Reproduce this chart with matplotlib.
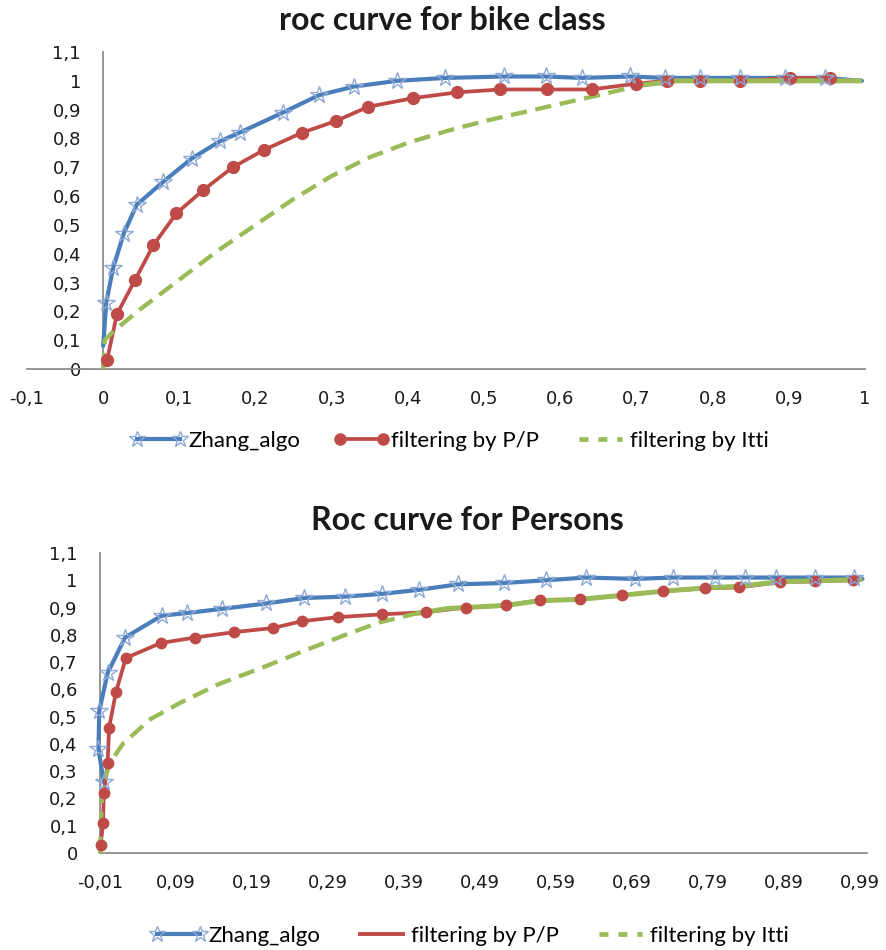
import numpy as np
import matplotlib
matplotlib.use("Agg")
import matplotlib.pyplot as plt
from matplotlib.lines import Line2D
from matplotlib.ticker import FixedLocator, FuncFormatter

# ---------------- bike class ----------------
bike_zhang_x = [0.0, 0.004, 0.013, 0.027, 0.044, 0.079, 0.116, 0.153, 0.179, 0.236, 0.283,
                0.329, 0.386, 0.449, 0.526, 0.581, 0.628, 0.691, 0.738, 0.784, 0.836,
                0.895, 0.947, 0.996]
bike_zhang_y = [0.08, 0.23, 0.35, 0.47, 0.57, 0.65, 0.73, 0.79, 0.82, 0.89, 0.95,
                0.98, 1.00, 1.01, 1.015, 1.015, 1.01, 1.015, 1.01, 1.01, 1.01,
                1.01, 1.01, 1.00]
bike_zhang_mk = list(range(1, 23))  # star markers (first and last are line ends)

bike_pp_x = [0.005, 0.018, 0.042, 0.066, 0.096, 0.131, 0.170, 0.211, 0.261, 0.305,
             0.348, 0.407, 0.465, 0.521, 0.582, 0.641, 0.699, 0.740, 0.784, 0.836,
             0.901, 0.954]
bike_pp_y = [0.03, 0.19, 0.31, 0.43, 0.54, 0.62, 0.70, 0.76, 0.82, 0.86,
             0.91, 0.94, 0.96, 0.97, 0.97, 0.97, 0.99, 1.00, 1.00, 1.00,
             1.01, 1.01]

bike_itti_x = [0.0, 0.002, 0.013, 0.05, 0.10, 0.15, 0.20, 0.25, 0.30, 0.35,
               0.40, 0.45, 0.50, 0.55, 0.60, 0.65, 0.706, 0.754, 0.850, 0.996]
bike_itti_y = [0.0, 0.10, 0.13, 0.21, 0.31, 0.41, 0.50, 0.59, 0.67, 0.735,
               0.785, 0.825, 0.86, 0.89, 0.92, 0.95, 0.985, 1.00, 1.00, 1.00]
bike_itti_dense_from = 16  # index where the points crowd together

# ---------------- persons ----------------
pers_zhang_x = [-0.005, -0.012, -0.011, 0.0, 0.023, 0.071, 0.105, 0.150, 0.209, 0.259,
                0.312, 0.361, 0.410, 0.461, 0.522, 0.577, 0.630, 0.695, 0.745, 0.800,
                0.839, 0.880, 0.932, 0.983, 0.994]
pers_zhang_y = [0.26, 0.38, 0.52, 0.66, 0.79, 0.87, 0.88, 0.895, 0.915, 0.935,
                0.94, 0.95, 0.965, 0.985, 0.99, 1.00, 1.01, 1.005, 1.01, 1.01,
                1.01, 1.01, 1.01, 1.01, 1.005]
pers_zhang_mk = list(range(0, 24))

pers_pp_x = [-0.009, -0.006, -0.005, 0.0, 0.002, 0.011, 0.024, 0.070, 0.115, 0.167,
             0.218, 0.256, 0.304, 0.361, 0.419, 0.472, 0.524, 0.570, 0.622, 0.678,
             0.731, 0.787, 0.832, 0.885, 0.932, 0.981]
pers_pp_y = [0.03, 0.11, 0.22, 0.33, 0.46, 0.59, 0.715, 0.77, 0.79, 0.81,
             0.825, 0.85, 0.865, 0.875, 0.883, 0.90, 0.908, 0.927, 0.93, 0.945,
             0.96, 0.97, 0.974, 0.993, 0.996, 1.00]

pers_itti_x = [-0.01, -0.007, 0.003, 0.020, 0.056, 0.095, 0.147, 0.204, 0.262, 0.318,
               0.357, 0.406, 0.449, 0.472, 0.524, 0.570, 0.622, 0.678, 0.731, 0.787,
               0.832, 0.885, 0.932, 0.994]
pers_itti_y = [0.0, 0.24, 0.33, 0.40, 0.49, 0.55, 0.62, 0.68, 0.745, 0.805,
               0.845, 0.878, 0.897, 0.90, 0.908, 0.925, 0.93, 0.945, 0.96, 0.972,
               0.978, 0.995, 0.998, 1.003]
pers_itti_dense_from = 11

labels = ["Zhang_algo", "filtering by P/P", "filtering by Itti"]

BLUE = "#4A7EBB"
STAR_EDGE = "#8EA9D6"
RED = "#BE4B48"
GREEN = "#9BBB59"
SPINE = "#8C8C8C"
TEXT = "#1A1A1A"

TICK_FONT = "DejaVu Sans"
LEG_FONT = "Lato"


def comma(v, decimals=None):
    if decimals is None:
        s = f"{v:.2f}".rstrip("0").rstrip(".")
    else:
        s = f"{v:.{decimals}f}"
    if s in ("-0", "-0.0"):
        s = "0"
    return s.replace(".", ",")


def style_axes(ax):
    for side in ("top", "right"):
        ax.spines[side].set_visible(False)
    for side in ("left", "bottom"):
        ax.spines[side].set_color(SPINE)
        ax.spines[side].set_linewidth(1.3)
    ax.tick_params(length=0, labelsize=13, colors=TEXT)
    ax.tick_params(axis="x", pad=15)
    ax.tick_params(axis="y", pad=16)
    for lab in ax.get_xticklabels() + ax.get_yticklabels():
        lab.set_fontfamily(TICK_FONT)
    ax.set_facecolor("none")


def draw_series(ax, zx, zy, zmk, px, py, ix, iy, dense, pp_ms):
    ax.plot(zx, zy, color=BLUE, lw=3.0, solid_capstyle="round", solid_joinstyle="round",
            zorder=3, clip_on=False)
    ax.plot([zx[i] for i in zmk], [zy[i] for i in zmk], ls="none", marker="*",
            ms=13, mfc="none", mec=STAR_EDGE, mew=1.0, zorder=6, clip_on=False)
    ax.plot(px, py, color=RED, lw=2.7, solid_joinstyle="round", zorder=3, clip_on=False)
    ax.plot(ix[:dense + 1], iy[:dense + 1], color=GREEN, lw=3.1, dashes=(3.8, 2.0),
            zorder=4, clip_on=False)
    ax.plot(ix[dense:], iy[dense:], color=GREEN, lw=3.6, solid_capstyle="butt",
            solid_joinstyle="round", zorder=4, clip_on=False)
    ax.plot(px, py, ls="none", marker="o", ms=pp_ms, mfc=RED, mec=RED, zorder=5,
            clip_on=False)


fig = plt.figure(figsize=(8.87, 9.50), dpi=100)

# bike class panel
ax1 = fig.add_axes([27 / 887, 1 - 369 / 950, (865 - 27) / 887, (369 - 52) / 950])
ax1.set_xlim(-0.1, 1.0)
ax1.set_ylim(0, 1.1)
ax1.spines["left"].set_position(("data", 0))
xt1 = [round(-0.1 + 0.1 * k, 2) for k in range(12)]
yt = [round(0.1 * k, 1) for k in range(12)]
ax1.xaxis.set_major_locator(FixedLocator(xt1))
ax1.yaxis.set_major_locator(FixedLocator(yt))
ax1.xaxis.set_major_formatter(FuncFormatter(lambda v, p: comma(v)))
ax1.yaxis.set_major_formatter(FuncFormatter(lambda v, p: comma(v)))
style_axes(ax1)
draw_series(ax1, bike_zhang_x, bike_zhang_y, bike_zhang_mk, bike_pp_x, bike_pp_y,
            bike_itti_x, bike_itti_y, bike_itti_dense_from, 8.5)

# persons panel
ax2 = fig.add_axes([100 / 887, 1 - 853 / 950, (867 - 100) / 887, (853 - 553) / 950])
ax2.set_xlim(-0.01, 1.0)
ax2.set_ylim(0, 1.1)
xt2 = [round(-0.01 + 0.1 * k, 2) for k in range(11)]
ax2.xaxis.set_major_locator(FixedLocator(xt2))
ax2.yaxis.set_major_locator(FixedLocator(yt))
ax2.xaxis.set_major_formatter(FuncFormatter(lambda v, p: comma(v, 2)))
ax2.yaxis.set_major_formatter(FuncFormatter(lambda v, p: comma(v)))
style_axes(ax2)
draw_series(ax2, pers_zhang_x, pers_zhang_y, pers_zhang_mk, pers_pp_x, pers_pp_y,
            pers_itti_x, pers_itti_y, pers_itti_dense_from, 7.5)

# titles
fig.text(442 / 887, 1 - 21 / 950, "roc curve for bike class", ha="center", va="center",
         fontsize=23, fontweight="bold", family=LEG_FONT, color=TEXT)
fig.text(467 / 887, 1 - 521 / 950, "Roc curve for Persons", ha="center", va="center",
         fontsize=23, fontweight="bold", family=LEG_FONT, color=TEXT)

# legends
def zhang_handle():
    return Line2D([], [], color=BLUE, lw=3.0, marker="*", ms=12, mfc="none",
                  mec=STAR_EDGE, mew=1.0)


def itti_handle():
    return Line2D([], [], color=GREEN, lw=3.4, dashes=(1.9, 2.1))


h_top = [zhang_handle(),
         Line2D([], [], color=RED, lw=2.7, marker="o", ms=8, mfc=RED, mec=RED),
         itti_handle()]
h_bot = [zhang_handle(),
         Line2D([], [], color=RED, lw=2.8),
         itti_handle()]

leg_kw = dict(ncol=3, frameon=False, numpoints=2, handlelength=2.5, handletextpad=0.1,
              columnspacing=1.5, prop={"family": LEG_FONT, "size": 16},
              loc="center")
fig.legend(h_top, labels, bbox_to_anchor=(450 / 887, 1 - 441 / 950), **leg_kw)
fig.legend(h_bot, labels, bbox_to_anchor=(470 / 887, 1 - 936 / 950), **leg_kw)

fig.savefig("out.png", dpi=100, facecolor="white")
